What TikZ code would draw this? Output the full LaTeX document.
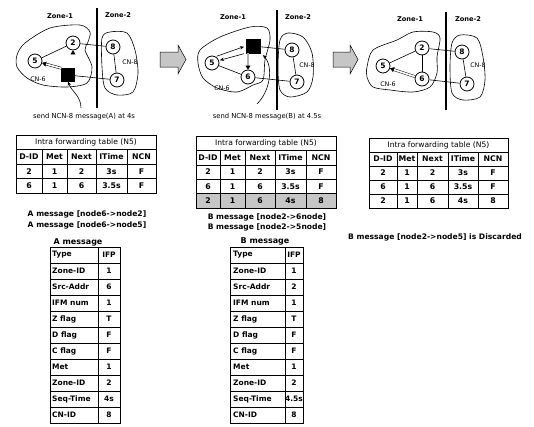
\documentclass[tikz,border=0pt]{standalone}
\usepackage{fontspec}
\setmainfont{DejaVu Sans}
\usetikzlibrary{arrows.meta,calc}
\begin{document}
\begin{tikzpicture}[x=1pt,y=-1pt,
  nd/.style={circle,draw,line width=0.8pt,inner sep=0pt,minimum size=14pt,font=\bfseries\fontsize{7.5}{7.5}\selectfont,fill=white},
  sqn/.style={rectangle,fill=black,draw=black,minimum size=13pt,inner sep=0pt},
  zonelbl/.style={font=\bfseries\fontsize{6.6}{7}\selectfont},
  cnlbl/.style={font=\fontsize{6.3}{7}\selectfont,inner sep=0.5pt},
  captext/.style={font=\fontsize{6.8}{7}\selectfont},
  msg/.style={font=\bfseries\fontsize{7.6}{8}\selectfont},
  ttitle/.style={font=\fontsize{7.6}{8}\selectfont,inner sep=0pt},
  tcell/.style={font=\bfseries\fontsize{7.8}{8}\selectfont,inner sep=0pt},
  bcell/.style={font=\bfseries\fontsize{7.5}{8}\selectfont,inner sep=0pt},
  link/.style={line width=0.6pt},
  blob/.style={line width=0.6pt},
  zline/.style={line width=1.3pt},
  tgrid/.style={line width=0.6pt},
  dbl/.style={double,double distance=1.6pt,line width=0.5pt,-{Triangle[length=4pt,width=5pt]}},
  arrtip/.style={-{Stealth[length=4pt,width=3.5pt]}},
  bigarrow/.style={draw,line width=0.5pt,fill=gray!45}
]
\useasboundingbox (0,0) rectangle (534,426);

% ===================== Diagram 1 =====================
\draw[blob] plot[smooth cycle] coordinates {(17,55) (25,43) (50,28) (80,25) (90,32) (88,42) (85,50) (92,67) (87,83) (67,87) (43,85) (27,78) (17,67)};
\draw[blob] plot[smooth cycle] coordinates {(102,38) (110,32) (127,33) (135,50) (138,73) (133,92) (117,95) (105,88) (102,67)};
\draw[zline] (97,8) -- (97,108);
\node[zonelbl] (z11) at (60,16) {Zone-1};
\node[zonelbl] (z12) at (118,15) {Zone-2};
\node[nd] (n2a) at (73,43) {2};
\node[nd] (n5a) at (35,61) {5};
\node[sqn] (s6a) at (68,75) {};
\node[nd] (n8a) at (113,47) {8};
\node[nd] (n7a) at (117,80) {7};
\node[cnlbl] (cn6a) at (38,79) {CN-6};
\node[cnlbl] (cn8a) at (130,62) {CN-8};
\draw[link] (n2a) -- (n8a);
\draw[link] (n5a) -- (n2a);
\draw[link] (s6a) -- (n7a);
\draw[link] (n8a) -- (n7a);
\draw[dbl] (s6a.north west) -- (n5a);
\draw[dbl] (s6a.north -| n2a.south) -- (n2a.south);
\coordinate (c1) at (81,108);
\draw[link,arrtip] (c1) .. controls (81,96) and (72,92) .. (s6a.south);
\node[captext] (cap1) at (84,117) {send NCN-8 message(A) at 4s};

% big arrows
\draw[bigarrow] (160,52) -- (178,52) -- (178,45) -- (186,59.5) -- (178,74) -- (178,67) -- (160,67) -- cycle;
\draw[bigarrow] (333,52) -- (350,52) -- (350,45) -- (358,59.5) -- (350,74) -- (350,67) -- (333,67) -- cycle;

% ===================== Diagram 2 =====================
\draw[blob] plot[smooth cycle] coordinates {(200,50) (220,37) (250,27) (267,28) (270,40) (265,60) (263,80) (253,85) (237,92) (217,88) (203,78) (198,63)};
\draw[blob] plot[smooth cycle] coordinates {(280,40) (288,33) (303,37) (312,53) (313,77) (307,92) (290,97) (280,90) (278,67)};
\draw[zline] (277,10) -- (277,110);
\node[zonelbl] (z21) at (233,17) {Zone-1};
\node[zonelbl] (z22) at (298,17) {Zone-2};
\node[sqn,minimum size=14pt] (s2b) at (253,46) {};
\node[nd] (n5b) at (212,63) {5};
\node[nd] (n6b) at (248,77) {6};
\node[nd] (n8b) at (292,50) {8};
\node[nd] (n7b) at (297,82) {7};
\node[cnlbl] (cn6b) at (222,88) {CN-6};
\node[cnlbl] (cn8b) at (307,65) {CN-8};
\draw[link] (s2b) -- (n8b);
\draw[link] (n5b) -- (n6b);
\draw[link] (n6b) -- (n7b);
\draw[link] (n8b) -- (n7b);
\draw[link,arrtip,shorten <=1pt,shorten >=2pt] (n5b.60) -- (s2b.west);
\draw[link,arrtip,shorten <=2pt,shorten >=1pt] (s2b.south west) -- (n5b.20);
\draw[dbl,double=gray!60] (s2b.south -| n6b.north) -- (n6b.north);
\coordinate (c2) at (257,104);
\coordinate (c2e) at (263,55);
\draw[link,arrtip] (c2) .. controls (271,90) and (273,66) .. (c2e);
\node[captext] (cap2) at (267,117) {send NCN-8 message(B) at 4.5s};

% ===================== Diagram 3 =====================
\draw[blob] plot[smooth cycle] coordinates {(367,67) (373,50) (397,40) (413,32) (433,32) (440,38) (437,57) (437,73) (430,87) (413,92) (390,90) (373,87) (367,77)};
\draw[blob] plot[smooth cycle] coordinates {(452,43) (460,35) (477,38) (483,57) (485,80) (480,97) (463,100) (452,93) (450,67)};
\draw[zline] (446,12) -- (446,110);
\node[zonelbl] (z31) at (410,19) {Zone-1};
\node[zonelbl] (z32) at (468,19) {Zone-2};
\node[nd] (n2c) at (422,48) {2};
\node[nd] (n5c) at (383,66) {5};
\node[nd] (n6c) at (422,79) {6};
\node[nd] (n8c) at (462,52) {8};
\node[nd] (n7c) at (467,84) {7};
\node[cnlbl] (cn6c) at (388,84) {CN-6};
\node[cnlbl] (cn8c) at (478,65) {CN-8};
\draw[link] (n2c) -- (n8c);
\draw[link] (n2c) -- (n5c);
\draw[link] (n2c) -- (n6c);
\draw[link] (n6c) -- (n7c);
\draw[link] (n8c) -- (n7c);
\draw[dbl] (n6c) -- (n5c);

% ===================== Table 1 =====================
\draw[tgrid] (16,135) rectangle (156,193);
\foreach \y in {149.5,164,178.5} \draw[tgrid] (16,\y) -- (156,\y);
\foreach \x in {42,67,96,127} \draw[tgrid] (\x,149.5) -- (\x,193);
\node[ttitle] (t1t) at (86,142.25) {Intra forwarding table (N5)};
\foreach \x/\t [count=\i] in {29/D-ID,54.5/Met,81.5/Next,111.5/ITime,141.5/NCN} \node[tcell] (t1h\i) at (\x,156.75) {\t};
\foreach \x/\t [count=\i] in {29/2,54.5/1,81.5/2,111.5/3s,141.5/F} \node[tcell] (t1a\i) at (\x,171.25) {\t};
\foreach \x/\t [count=\i] in {29/6,54.5/1,81.5/6,111.5/3.5s,141.5/F} \node[tcell] (t1b\i) at (\x,185.75) {\t};
\node[msg] (ma1) at (87,214) {A message [node6->node2]};
\node[msg] (ma2) at (87,225) {A message [node6->node5]};

% ===================== Table 2 =====================
\fill[gray!45] (196,193.6) rectangle (336,208);
\draw[tgrid] (196,136) rectangle (336,208);
\foreach \y in {150.4,164.8,179.2,193.6} \draw[tgrid] (196,\y) -- (336,\y);
\foreach \x in {220,245,275,306} \draw[tgrid] (\x,150.4) -- (\x,208);
\node[ttitle] (t2t) at (266,143.2) {Intra forwarding table (N5)};
\foreach \x/\t [count=\i] in {208/D-ID,232.5/Met,260/Next,290.5/ITime,321/NCN} \node[tcell] (t2h\i) at (\x,157.6) {\t};
\foreach \x/\t [count=\i] in {208/2,232.5/1,260/2,290.5/3s,321/F} \node[tcell] (t2a\i) at (\x,172) {\t};
\foreach \x/\t [count=\i] in {208/6,232.5/1,260/6,290.5/3.5s,321/F} \node[tcell] (t2b\i) at (\x,186.4) {\t};
\foreach \x/\t [count=\i] in {208/2,232.5/1,260/6,290.5/4s,321/8} \node[tcell] (t2c\i) at (\x,200.8) {\t};
\node[msg] (mb1) at (267,217) {B message [node2->6node]};
\node[msg] (mb2) at (267,227) {B message [node2->5node]};

% ===================== Table 3 =====================
\draw[tgrid] (369,138) rectangle (508,208);
\foreach \y in {152,166,180,194} \draw[tgrid] (369,\y) -- (508,\y);
\foreach \x in {397,417,448,478} \draw[tgrid] (\x,152) -- (\x,208);
\node[ttitle] (t3t) at (438.5,145) {Intra forwarding table (N5)};
\foreach \x/\t [count=\i] in {383/D-ID,407/Met,432.5/Next,463/ITime,493/NCN} \node[tcell] (t3h\i) at (\x,159) {\t};
\foreach \x/\t [count=\i] in {383/2,407/1,432.5/2,463/3s,493/F} \node[tcell] (t3a\i) at (\x,173) {\t};
\foreach \x/\t [count=\i] in {383/6,407/1,432.5/6,463/3.5s,493/F} \node[tcell] (t3b\i) at (\x,187) {\t};
\foreach \x/\t [count=\i] in {383/2,407/1,432.5/6,463/4s,493/8} \node[tcell] (t3c\i) at (\x,201) {\t};
\node[msg] (mc1) at (435,237) {B message [node2->node5] is Discarded};

% ===================== A message table =====================
\node[msg,font=\bfseries\fontsize{8}{8}\selectfont] (la) at (78,242) {A message};
\draw[tgrid] (50,247) rectangle (120,423);
\draw[tgrid] (98,247) -- (98,423);
\foreach \i in {1,...,10} \draw[tgrid] (50,247+16*\i) -- (120,247+16*\i);
\foreach \t/\v [count=\i from 0] in {Type/IFP,Zone-ID/1,Src-Addr/6,IFM num/1,Z flag/T,D flag/F,C flag/F,Met/1,Zone-ID/2,Seq-Time/4s,CN-ID/8} {
  \node[bcell,anchor=west] (at\i) at (52,255+16*\i) {\t};
  \node[bcell] (av\i) at (109,255+16*\i) {\v};
}

% ===================== B message table =====================
\node[msg,font=\bfseries\fontsize{8}{8}\selectfont] (lb) at (265,241) {B message};
\draw[tgrid] (230,247) rectangle (303,423);
\draw[tgrid] (285,247) -- (285,423);
\foreach \i in {1,...,10} \draw[tgrid] (230,247+16*\i) -- (303,247+16*\i);
\foreach \t/\v [count=\i from 0] in {Type/IFP,Zone-ID/1,Src-Addr/2,IFM num/1,Z flag/T,D flag/F,C flag/F,Met/1,Zone-ID/2,Seq-Time/4.5s,CN-ID/8} {
  \node[bcell,anchor=west] (bt\i) at (233,255+16*\i) {\t};
  \node[bcell] (bv\i) at (294,255+16*\i) {\v};
}
\end{tikzpicture}
\end{document}
